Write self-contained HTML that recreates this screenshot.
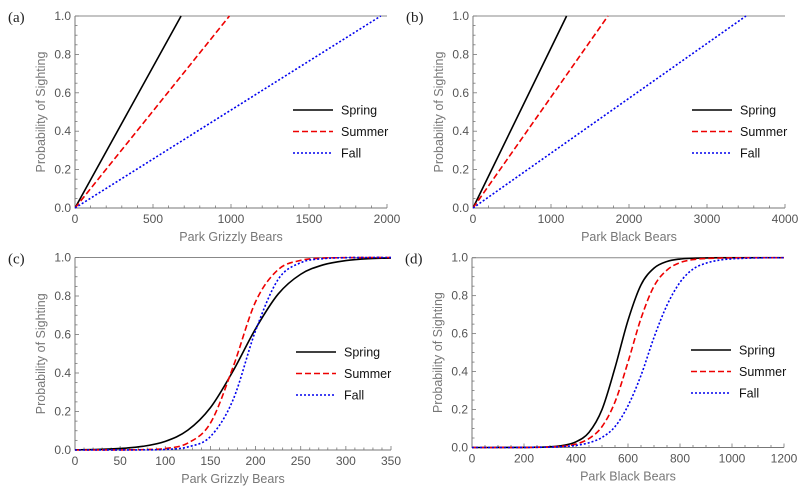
<!DOCTYPE html>
<html><head><meta charset="utf-8"><style>
body{margin:0;background:#fff;}
svg{display:block;font-family:"Liberation Sans",sans-serif;}
.tk{font-size:12px;fill:#555;}
.ttl{font-size:12.5px;fill:#777;}
.pl{font-family:"Liberation Serif",serif;font-size:15px;fill:#222;}
.lg{font-size:12.5px;fill:#111;}
</style></head><body>
<svg id="chart" width="807" height="494" viewBox="0 0 807 494" xmlns="http://www.w3.org/2000/svg"></svg>
<script>
// Panel (a): linear, grizzly — x value where probability reaches 1
const aSlopeEnd = [680, 990, 1960];
// Panel (b): linear, black bears
const bSlopeEnd = [1200, 1730, 3500];
// Panel (c): grizzly logistic, x = 0..350 step 25
const cX = [0,25,50,75,100,125,150,175,200,225,250,275,300,325,350];
const cSpring = [0.001,0.003,0.008,0.019,0.045,0.103,0.22,0.41,0.63,0.81,0.913,0.962,0.984,0.994,0.997];
const cSummer = [0,0.0001,0.0004,0.002,0.008,0.036,0.14,0.43,0.77,0.937,0.985,0.997,0.999,1,1];
const cFall = [0,0,0.0002,0.0007,0.003,0.016,0.07,0.26,0.62,0.886,0.973,0.994,0.999,1,1];
// Panel (d): black bear logistic, x = 0..1200 step 50
const dX = [0,50,100,150,200,250,300,350,400,450,500,550,600,650,700,750,800,850,900,950,1000,1050,1100,1150,1200];
const dSpring = [0,0,0.0001,0.0002,0.0005,0.0014,0.004,0.011,0.03,0.08,0.2,0.42,0.67,0.857,0.945,0.98,0.993,0.997,0.999,1,1,1,1,1,1];
const dSummer = [0,0,0,0.0002,0.0005,0.001,0.003,0.007,0.018,0.047,0.11,0.24,0.45,0.68,0.85,0.935,0.974,0.99,0.996,0.998,0.999,1,1,1,1];
const dFall = [0,0,0,0,0.0005,0.001,0.002,0.005,0.011,0.025,0.053,0.11,0.22,0.38,0.58,0.75,0.87,0.94,0.971,0.987,0.994,0.997,0.999,1,1];
const seriesNames = ["Spring","Summer","Fall"];
const yTicks = ["0.0","0.2","0.4","0.6","0.8","1.0"];

const NS="http://www.w3.org/2000/svg";
const svg=document.getElementById('chart');
function mk(tag,attrs,parent){const e=document.createElementNS(NS,tag);for(const k in attrs)e.setAttribute(k,attrs[k]);(parent||svg).appendChild(e);return e;}
const styles=[{stroke:"#000",dash:""},{stroke:"#e00",dash:"6,3"},{stroke:"#00e",dash:"2,2"}];

function smoothPath(pts){
  let d="M"+pts[0][0].toFixed(2)+","+pts[0][1].toFixed(2);
  for(let i=0;i<pts.length-1;i++){
    const p0=pts[Math.max(i-1,0)],p1=pts[i],p2=pts[i+1],p3=pts[Math.min(i+2,pts.length-1)];
    const c1=[p1[0]+(p2[0]-p0[0])/6,p1[1]+(p2[1]-p0[1])/6];
    const c2=[p2[0]-(p3[0]-p1[0])/6,p2[1]-(p3[1]-p1[1])/6];
    d+=" C"+c1.map(v=>v.toFixed(2))+" "+c2.map(v=>v.toFixed(2))+" "+p2[0].toFixed(2)+","+p2[1].toFixed(2);
  }
  return d;
}

function panel(o){
  const g=mk('g',{});
  
  
  const sx=v=>o.x0+(v/o.xmax)*(o.x1-o.x0);
  const sy=v=>o.y0-v*(o.y0-o.y1);
  // axes
  const ax=mk('path',{d:`M${o.x0},${o.y1} V${o.y0} H${o.x1}`,fill:"none",stroke:"#777","stroke-width":1},g);
   
  const top=mk('line',{x1:o.x0,y1:o.y1,x2:o.x1,y2:o.y1,stroke:"#888","stroke-width":1},g);
   
  // x ticks
  for(let v=0;v<=o.xmax+1e-9;v+=o.xminor){
    const major=Math.abs(v/o.xmajor-Math.round(v/o.xmajor))<1e-6;
    mk('line',{x1:sx(v),x2:sx(v),y1:o.y0,y2:o.y0-(major?4:2.5),stroke:"#777","stroke-width":0.8},g);
    if(major){const t=mk('text',{x:sx(v),y:o.y0+15,"text-anchor":"middle",class:"tk"},g);t.textContent=String(Math.round(v));
      }
  }
  for(let i=0;i<=20;i++){
    const v=i*0.05,major=i%4===0;
    mk('line',{x1:o.x0,x2:o.x0+(major?4:2.5),y1:sy(v),y2:sy(v),stroke:"#777","stroke-width":0.8},g);
    if(major){const t=mk('text',{x:o.x0-4,y:sy(v)+4,"text-anchor":"end",class:"tk"},g);t.textContent=yTicks[i/4];
      }
  }
  const xt=mk('text',{x:(o.x0+o.x1)/2,y:o.y0+33,"text-anchor":"middle",class:"ttl"},g);xt.textContent=o.xtitle;
  
  const yc=(o.y0+o.y1)/2,yx=o.x0-30;
  const yt=mk('text',{x:yx,y:yc,"text-anchor":"middle",class:"ttl",transform:`rotate(-90 ${yx} ${yc})`},g);yt.textContent="Probability of Sighting";
  
  const pl=mk('text',{x:o.x0-67,y:o.y1+6,class:"pl"},g);pl.textContent=o.label;
  
  // clip
  const cid='clip'+o.label.replace(/\W/g,'');
  const cp=mk('clipPath',{id:cid},g);mk('rect',{x:o.x0,y:o.y1-1,width:o.x1-o.x0+1,height:o.y0-o.y1+2},cp);
  o.series.forEach((s,i)=>{
    let d;
    if(s.linear){d=`M${sx(0)},${sy(0)} L${sx(s.end)},${sy(1)}`;}
    else{d=smoothPath(s.xs.map((x,j)=>[sx(x),sy(s.ys[j])]));}
    const p=mk('path',{d:d,fill:"none",stroke:styles[i].stroke,"stroke-width":1.6,"stroke-dasharray":styles[i].dash,"clip-path":`url(#${cid})`},g);
    
    
  });
  // legend
  const lg=mk('g',{},g);
  
  seriesNames.forEach((n,i)=>{
    const y=o.ly+i*21.5;
    mk('line',{x1:o.lx,x2:o.lx+40,y1:y,y2:y,stroke:styles[i].stroke,"stroke-width":1.6,"stroke-dasharray":styles[i].dash},lg);
    const t=mk('text',{x:o.lx+48,y:y+4.5,class:"lg"},lg);t.textContent=n;
    
  });
}

panel({name:"panel-a",label:"(a)",x0:75,x1:387,y0:208,y1:16,xmax:2000,xmajor:500,xminor:100,xtitle:"Park Grizzly Bears",lx:293,ly:110,
  series:aSlopeEnd.map(e=>({linear:true,end:e}))});
panel({name:"panel-b",label:"(b)",x0:473,x1:785,y0:208,y1:16,xmax:4000,xmajor:1000,xminor:200,xtitle:"Park Black Bears",lx:692,ly:110,
  series:bSlopeEnd.map(e=>({linear:true,end:e}))});
panel({name:"panel-c",label:"(c)",x0:75,x1:391,y0:450,y1:257.5,xmax:350,xmajor:50,xminor:10,xtitle:"Park Grizzly Bears",lx:296,ly:352,
  series:[{xs:cX,ys:cSpring},{xs:cX,ys:cSummer},{xs:cX,ys:cFall}]});
panel({name:"panel-d",label:"(d)",x0:472,x1:784,y0:447.5,y1:257.7,xmax:1200,xmajor:200,xminor:50,xtitle:"Park Black Bears",lx:691,ly:350,
  series:[{xs:dX,ys:dSpring},{xs:dX,ys:dSummer},{xs:dX,ys:dFall}]});
</script>
</body></html>
